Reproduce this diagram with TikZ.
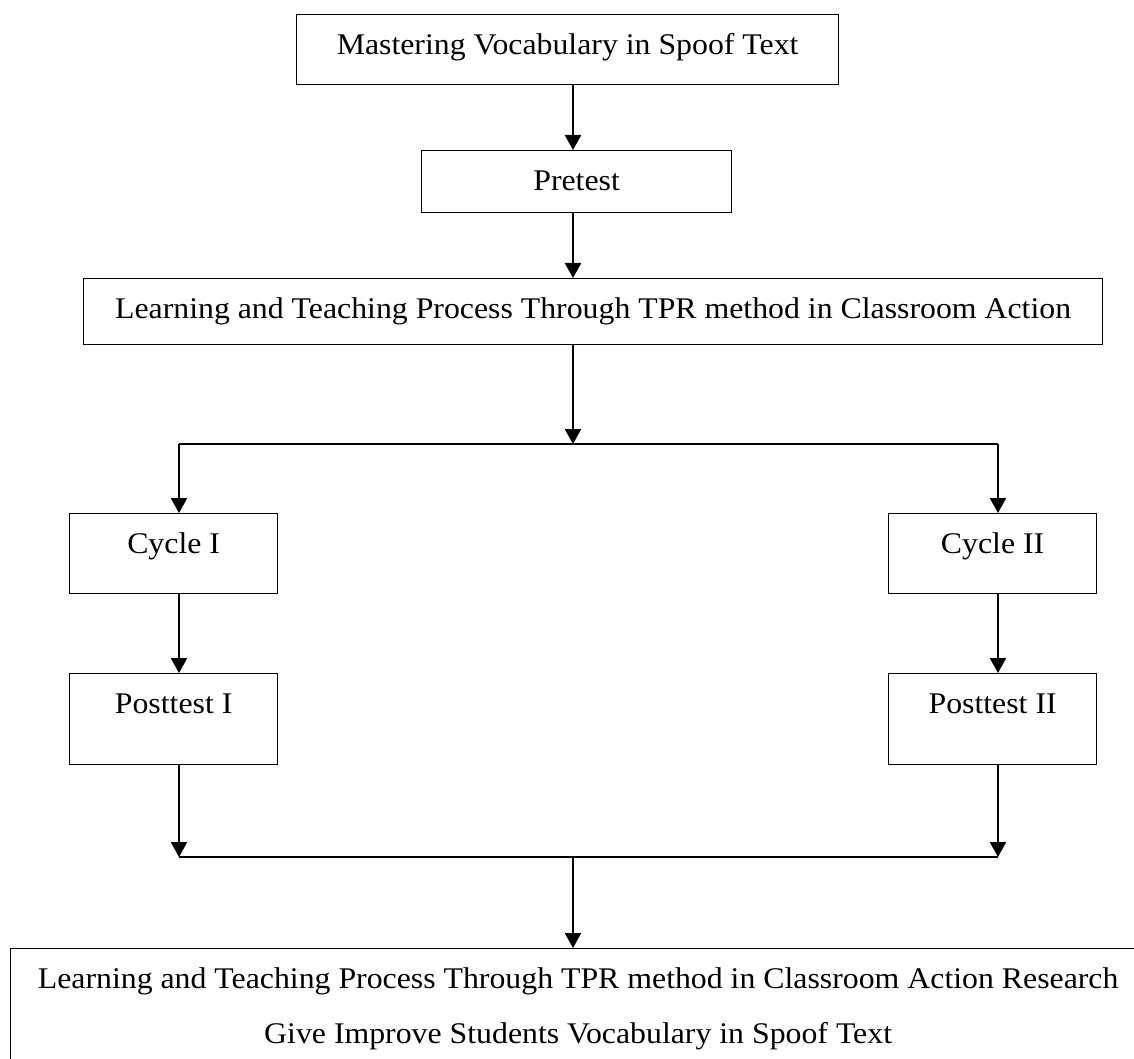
\documentclass[tikz,border=0pt]{standalone}
\usepackage{fontspec}
\setmainfont{Liberation Serif}[FakeStretch=1.06]
\usetikzlibrary{arrows.meta}
\tikzset{
  kotak/.style={draw,line width=.5pt,inner sep=0pt,anchor=north west,text height=16pt,font=\fontsize{12}{22}\selectfont},
  panah/.style={line width=.6pt,-{Triangle[length=6pt,width=6.5pt]}}
}
\begin{document}
\begin{tikzpicture}[x=0.4pt,y=-0.4pt]
\useasboundingbox (0,0) rectangle (1134,1059);

\node[kotak,minimum width=216.8pt,text depth=12pt](master) at (296,14) {Mastering Vocabulary in Spoof Text};
\node[kotak,minimum width=124pt,text depth=8.8pt](pretest) at (421,150) {Pretest};
\node[kotak,minimum width=407.6pt,text depth=10.4pt](tpr) at (83,278) {Learning and Teaching Process Through TPR method in Classroom Action};

\coordinate (axis) at (573,0);
\coordinate (pisah) at (573,444);
\coordinate (gabung) at (573,857);

\draw[panah](master.south -| axis)--(pretest.north -| axis);
\draw[panah](pretest.south -| axis)--(tpr.north -| axis);
\draw[panah](tpr.south -| axis)--(pisah);

% two cycles
\foreach \k/\x/\bx/\r in {1/179/69/I,2/998/888/II}
{
    \coordinate (atas\k) at (\x,444);
    \coordinate (bawah\k) at (\x,857);
    \node[kotak,minimum width=83.2pt,text depth=16pt](cyc\k) at (\bx,513) {Cycle \r};
    \node[kotak,minimum width=83.2pt,text depth=20.4pt](post\k) at (\bx,673) {Posttest \r};
    \draw[panah](atas\k)--(cyc\k.north -| atas\k);
    \draw[panah](cyc\k.south -| atas\k)--(post\k.north -| atas\k);
    \draw[panah](post\k.south -| atas\k)--(bawah\k);
}
\draw[line width=.6pt](atas1)--(atas2);
\draw[line width=.6pt](bawah1)--(bawah2);

\node[kotak,minimum width=454pt,text height=38pt,text depth=12.8pt,align=center](hasil) at (10,948) {Learning and Teaching Process Through TPR method in Classroom Action Research\\Give Improve Students Vocabulary in Spoof Text};
\draw[panah](gabung)--(hasil.north -| axis);

\end{tikzpicture}
\end{document}
